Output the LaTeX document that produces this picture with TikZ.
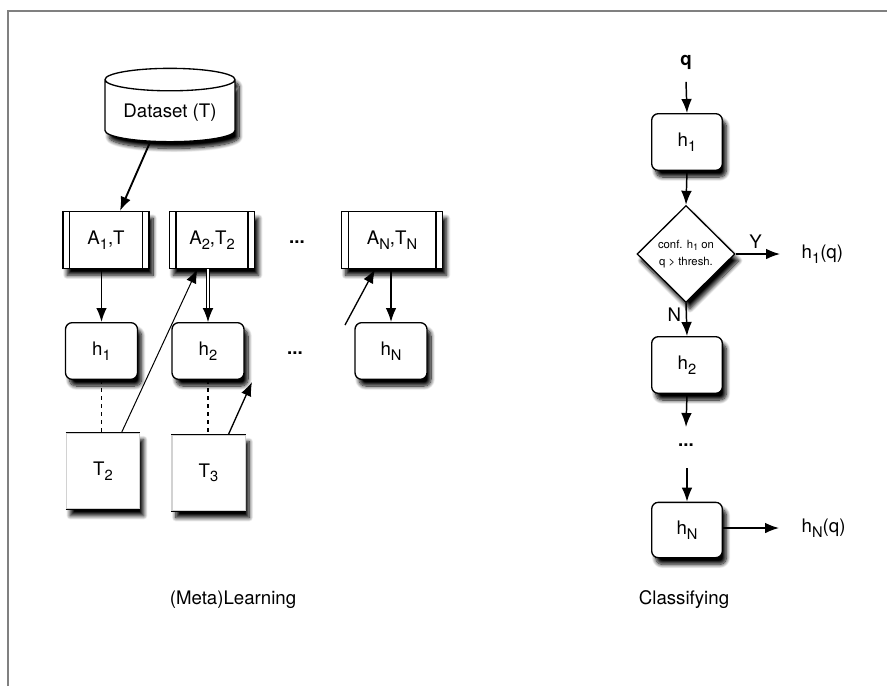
\documentclass[tikz,border=0pt]{standalone}
\usepackage{fontspec}
\setmainfont{TeX Gyre Heros}
\usetikzlibrary{calc,positioning,shapes.geometric,shadows.blur,arrows.meta}
\newcommand{\dn}[1]{\raisebox{-0.45ex}{\fontsize{11}{11}\selectfont #1}}
\tikzset{
  base/.style={draw, fill=white, line width=1pt,
    blur shadow={shadow xshift=3pt, shadow yshift=-5pt, shadow blur radius=3pt,
      shadow blur steps=10, shadow opacity=100}},
  hbox/.style={base, rounded corners=5pt, minimum width=54pt, minimum height=42.5pt},
  procbox/.style={base, minimum height=42.75pt,
    path picture={
      \draw ([xshift=5pt]path picture bounding box.north west) -- ([xshift=5pt]path picture bounding box.south west);
      \draw ([xshift=-5pt]path picture bounding box.north east) -- ([xshift=-5pt]path picture bounding box.south east);}},
  docbox/.style={base, draw=gray!35, minimum width=55pt, minimum height=57pt},
  link/.style={-{Latex[length=10.5pt,width=8pt]}, line width=1.1pt},
  thin link/.style={-{Latex[length=10.5pt,width=8pt]}, line width=0.75pt}
}
\begin{document}
\begin{tikzpicture}[x=0.75pt, y=-0.75pt, font=\fontsize{14}{17}\selectfont]
  \useasboundingbox (0,0) rectangle (887,686);
  \draw[gray, line width=0.9pt] (8,686) -- (8,11) -- (887,11);% frame

  % (Meta)Learning
  \node[cylinder, shape border rotate=90, aspect=0.22, minimum width=97.5pt,
        minimum height=55pt, base] (data) at (170,113) {Dataset (T)};
  \node[procbox, minimum width=64.5pt] (a1) at (106,240) {A\dn{1},T};
  \node[procbox, minimum width=64pt] (a2) at (212,240) {A\dn{2},T\dn{2}};
  \node[procbox, minimum width=75.75pt] (aN) at (392,240) {A\dn{N},T\dn{N}};
  \node (dotsA) at (297,242) {\textbf{...}};
  \node[hbox] (h1) at (101.5,351) {h\dn{1}};
  \node[hbox] (h2) at (208,351) {h\dn{2}};
  \node[hbox] (hN) at (391,351) {h\dn{N}};
  \node (dotsH) at (295,353) {\textbf{...}};
  \node[docbox] (t2) at (103,471) {T\dn{2}};
  \node[docbox] (t3) at (208.5,473) {T\dn{3}};
  \foreach \t in {t2,t3}{% only top and bottom edges are dark
    \draw[line width=1pt] (\t.north west) -- (\t.north east)
      (\t.south west) -- (\t.south east);}
  \coordinate (t3end) at (252,382);
  \coordinate (aNstart) at (345,325);

  \draw[link, line width=1.4pt] ([xshift=-15pt]data.south) -- ([xshift=10.5pt]a1.north);
  \draw[link, line width=1.3pt] (h1 |- a1.south) -- (h1.north);
  \draw[link, double, double distance=1.6pt, line width=0.7pt] (h2 |- a2.south) -- (h2.north);
  \draw[link] (hN |- aN.south) -- (hN.north);
  \draw[dashed, line width=0.9pt] (h1.south) -- (h1 |- t2.north);
  \draw[dashed, line width=0.9pt] (h2.south) -- (h2 |- t3.north);
  \draw[thin link] ([xshift=14pt]t2.north) -- ([xshift=-11pt]a2.south);
  \draw[thin link, line width=1pt] ([xshift=15pt]t3.north) -- (t3end);
  \draw[thin link, line width=1pt] (aNstart) -- ([xshift=-12.75pt]aN.south);
  \node (learn) at (233,600) {(Meta)Learning};

  % Classifying
  \node (q) at (686,62) {\textbf{q}};
  \node[hbox, minimum width=53pt] (rh1) at (687,142) {h\dn{1}};
  \node[diamond, base, minimum width=73.5pt, minimum height=72.75pt, inner sep=0pt,
        font=\fontsize{8.5}{13}\selectfont, align=center] (dia) at (686,254)
        {conf. h\raisebox{-0.4ex}{\fontsize{7}{7}\selectfont 1} on\\q > thresh.};
  \node[anchor=west] (rh1q) at (797,254) {h\dn{1}(q)};
  \node[hbox, minimum width=53pt] (rh2) at (687,365) {h\dn{2}};
  \node (dotsR) at (686,445) {\textbf{...}};
  \node[hbox, minimum width=53pt, minimum height=41.5pt] (rhN) at (687,530) {h\dn{N}};
  \node[anchor=west] (rhNq) at (797,528) {h\dn{N}(q)};
  \coordinate (yend) at (780,254);
  \coordinate (rh2end) at (686,427);
  \coordinate (rhNstart) at (687,468);
  \coordinate (rhNend) at (779,528);

  \draw[link] ([yshift=-6pt]q.south) -- (rh1.north);
  \draw[link] (rh1.south) -- (dia.north);
  \draw[link] (dia.east) -- node[above, pos=0.45] {Y} (yend);
  \draw[link] (dia.south) -- node[left, pos=0.35] {N} (rh2.north);
  \draw[link] (rh2.south) -- (rh2end);
  \draw[link] (rhNstart) -- (rhN.north);
  \draw[link] (rhN.east |- rhNq) -- (rhNend);
  \node (classify) at (684,600) {Classifying};
\end{tikzpicture}
\end{document}
